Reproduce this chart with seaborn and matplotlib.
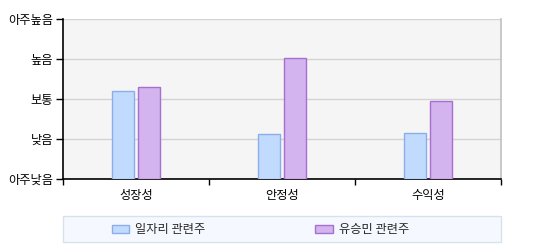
import matplotlib
matplotlib.use("Agg")
import matplotlib.pyplot as plt
import seaborn as sns
import pandas as pd
from matplotlib.patches import Rectangle, Patch

categories = ["성장성", "안정성", "수익성"]
series_names = ["일자리 관련주", "유승민 관련주"]
jobs_values = [2.2, 1.12, 1.15]
yoo_values = [2.3, 3.02, 1.95]
level_labels = ["아주낮음", "낮음", "보통", "높음", "아주높음"]

fills = ["#C1DBFF", "#D4B4EE"]
edges = ["#8CAEE8", "#A66FD0"]

sns.set_theme(style="white")
plt.rcParams['font.family'] = ['Noto Sans CJK KR', 'DejaVu Sans']

df = pd.DataFrame({
    "category": categories * 2,
    "series": [series_names[0]] * 3 + [series_names[1]] * 3,
    "value": jobs_values + yoo_values,
})

fig = plt.figure(figsize=(5.44, 2.5), dpi=100)
ax = fig.add_axes([63/544, 1-179/250, 438/544, 160/250])
ax.set_facecolor("#F5F5F5")

sns.barplot(data=df, x="category", y="value", hue="series", order=categories,
            hue_order=series_names, palette=fills, width=0.35, gap=0.12,
            saturation=1, ax=ax, legend=False, zorder=3)
for i, container in enumerate(ax.containers):
    for bar in container:
        bar.set_edgecolor(edges[i])
        bar.set_linewidth(1.0)

ax.set_xlim(-0.5, 2.5)
ax.set_ylim(0, 4)
ax.set_yticks(range(5))
ax.set_yticklabels(level_labels, fontsize=8.8, color="black")
ax.yaxis.grid(True, color="#D3D3D3", linewidth=1, zorder=0)
ax.set_axisbelow(True)
ax.set_xlabel("")
ax.set_ylabel("")

ax.set_xticks(range(3))
ax.set_xticklabels(categories, fontsize=8.8, color="black")
ax.set_xticks([-0.5, 0.5, 1.5, 2.5], minor=True)
ax.tick_params(axis="x", which="major", length=0, pad=7)
ax.tick_params(axis="x", which="minor", length=4, width=1, color="black", direction="out", bottom=True)
ax.tick_params(axis="y", which="major", length=5, width=1, color="black", direction="out", left=True, pad=2)

for s in ["left", "bottom"]:
    ax.spines[s].set_color("black")
    ax.spines[s].set_linewidth(1.2)
ax.spines["right"].set_color("#C0C0C0")
ax.spines["right"].set_linewidth(1.2)
ax.spines["top"].set_visible(False)

fig.patches.append(Rectangle((63/544, 1-242/250), 438/544, 26/250, transform=fig.transFigure,
                             facecolor="#F5F8FE", edgecolor="#D8E2EE", linewidth=1, zorder=0))
handles = [Patch(facecolor=fills[i], edgecolor=edges[i], linewidth=1) for i in range(2)]
fig.legend(handles, series_names, loc="center left", bbox_to_anchor=(112/544, 1-229.5/250),
           ncol=2, frameon=False, fontsize=8.8, handlelength=1.4, handleheight=0.66,
           handletextpad=0.5, columnspacing=9.0, borderpad=0, borderaxespad=0)

fig.savefig("out.png", dpi=100)
